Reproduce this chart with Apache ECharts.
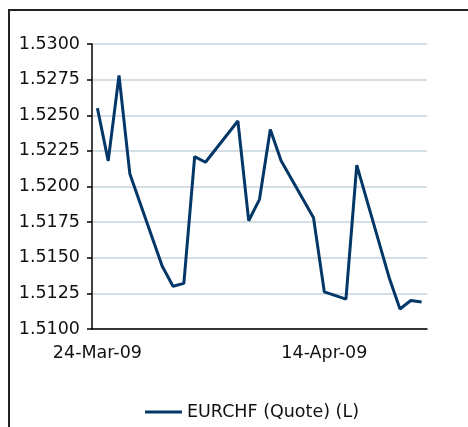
<!DOCTYPE html>
<html>
<head>
<meta charset="utf-8">
<script src="https://cdn.jsdelivr.net/npm/echarts@6/dist/echarts.min.js"></script>
<style>
  html, body { margin: 0; padding: 0; background: #fff; }
  #chart { width: 468px; height: 427px; }
</style>
</head>
<body>
<div id="chart"></div>
<script>
// trading days and EURCHF closing quotes
const tradeDates = [
  "2009-03-24", "2009-03-25", "2009-03-26", "2009-03-27",
  "2009-03-30", "2009-03-31", "2009-04-01", "2009-04-02", "2009-04-03",
  "2009-04-06", "2009-04-07", "2009-04-08", "2009-04-09", "2009-04-10",
  "2009-04-13", "2009-04-14", "2009-04-16", "2009-04-17",
  "2009-04-20", "2009-04-21", "2009-04-22", "2009-04-23"
];
const quotes = [
  1.5255, 1.5218, 1.5278, 1.5209,
  1.5144, 1.5130, 1.5132, 1.5221, 1.5217,
  1.5246, 1.5176, 1.5191, 1.5240, 1.5218,
  1.5178, 1.5126, 1.5121, 1.5215,
  1.5136, 1.5114, 1.5120, 1.5119
];
const seriesName = "EURCHF (Quote) (L)";
const yMin = 1.51, yMax = 1.53, yStep = 0.0025;

const months = ["Jan", "Feb", "Mar", "Apr", "May", "Jun", "Jul", "Aug", "Sep", "Oct", "Nov", "Dec"];

// date axis: one slot per calendar day, gaps (weekends / holidays) stay empty
const days = [];
const values = [];
const byDate = {};
tradeDates.forEach((d, i) => { byDate[d] = quotes[i]; });
let cur = new Date(tradeDates[0] + "T12:00:00Z");
const last = new Date(tradeDates[tradeDates.length - 1] + "T12:00:00Z");
while (cur <= last) {
  const key = cur.toISOString().slice(0, 10);
  const dd = String(cur.getUTCDate()).padStart(2, "0");
  days.push(dd + "-" + months[cur.getUTCMonth()] + "-" + String(cur.getUTCFullYear()).slice(2));
  values.push(key in byDate ? byDate[key] : null);
  cur = new Date(cur.getTime() + 86400000);
}

const font = "DejaVu Sans, Verdana, sans-serif";
const chart = echarts.init(document.getElementById("chart"));

chart.setOption({
  animation: false,
  graphic: [
    {
      type: "rect",
      shape: { x: 9, y: 10, width: 520, height: 440 },
      style: { fill: "none", stroke: "#222", lineWidth: 2 },
      silent: true
    }
  ],
  grid: { left: 92, right: 41, top: 44, bottom: 98 },
  legend: {
    left: 140,
    top: 398,
    icon: "rect",
    itemWidth: 37,
    itemHeight: 3,
    itemGap: 10,
    textStyle: { fontFamily: font, fontSize: 17.5, color: "#111" },
    data: [seriesName]
  },
  xAxis: {
    type: "category",
    data: days,
    boundaryGap: true,
    axisLine: { lineStyle: { color: "#000", width: 1.5 } },
    axisTick: { interval: 20, length: 5, lineStyle: { color: "#000", width: 1.5 } },
    axisLabel: {
      interval: 20,
      margin: 15,
      fontFamily: font,
      fontSize: 17.5,
      color: "#111"
    },
    splitLine: { show: false }
  },
  yAxis: {
    type: "value",
    min: yMin,
    max: yMax,
    interval: yStep,
    axisLine: { show: true, lineStyle: { color: "#000", width: 1.5 } },
    axisTick: { show: true, length: 5, lineStyle: { color: "#000", width: 1.5 } },
    axisLabel: {
      margin: 12,
      fontFamily: font,
      fontSize: 17.5,
      color: "#111",
      formatter: v => v.toFixed(4)
    },
    splitLine: { show: true, lineStyle: { color: "#d3dee5", width: 2 } }
  },
  series: [
    {
      name: seriesName,
      type: "line",
      data: values,
      connectNulls: true,
      showSymbol: false,
      lineStyle: { color: "#023768", width: 3 },
      itemStyle: { color: "#023768" }
    }
  ]
});
</script>
</body>
</html>
